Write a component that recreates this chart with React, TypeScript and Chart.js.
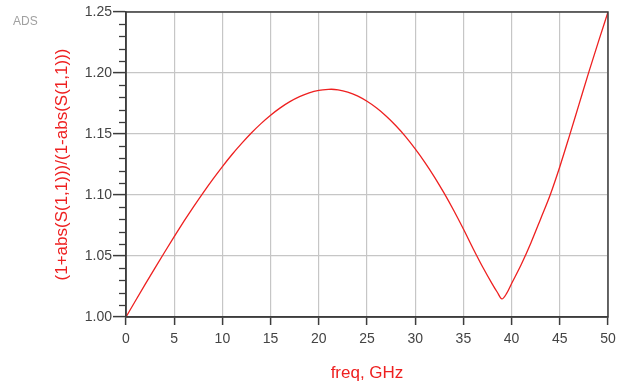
import React, { useEffect, useRef } from "react";
import { Chart, registerables } from "chart.js";

Chart.register(...registerables);

const freqGHz = [
  0, 1, 2, 3, 4, 5, 6, 7, 8, 9, 10, 11, 12, 13, 14, 15, 16, 17, 18, 19, 20,
  21, 21.3, 22, 23, 24, 25, 26, 27, 28, 29, 30, 31, 32, 33, 34, 35, 36, 37, 38,
  38.5, 39, 39.5, 40, 41, 42, 43, 44, 45, 46, 47, 48, 49, 50,
];
const vswr = [
  1.0, 1.0135, 1.0269, 1.0401, 1.0531, 1.0659, 1.0783, 1.0903, 1.1018,
  1.1128, 1.1233, 1.1332, 1.1423, 1.1508, 1.1585, 1.1654, 1.1714, 1.1765,
  1.1806, 1.1837, 1.1857, 1.1866, 1.1867, 1.1862, 1.1843, 1.1812, 1.1768,
  1.1713, 1.1646, 1.1568, 1.1479, 1.1378, 1.1268, 1.1147, 1.1015, 1.0873,
  1.0721, 1.0562, 1.041, 1.027, 1.0205, 1.0148, 1.0195, 1.0274, 1.043, 1.0607,
  1.0802, 1.1, 1.1232, 1.1485, 1.1745, 1.2005, 1.2255, 1.25,
];
const xTicks = [0, 5, 10, 15, 20, 25, 30, 35, 40, 45, 50];
const yTicks = [1.0, 1.05, 1.1, 1.15, 1.2, 1.25];

const xTitle = "freq, GHz";
const yTitle = "(1+abs(S(1,1)))/(1-abs(S(1,1)))";
const corner = "ADS";

const FONT = '"Liberation Sans", Arial, sans-serif';

export default function App() {
  const ref = useRef<HTMLCanvasElement | null>(null);

  useEffect(() => {
    if (!ref.current) return;

    const decor = {
      id: "decor",
      afterDraw(chart: any) {
        const { ctx, chartArea } = chart;
        const { left, right, top, bottom } = chartArea;
        const y = chart.scales.y;
        ctx.save();
        // frame
        ctx.strokeStyle = "#3c3c3c";
        ctx.lineWidth = 1.5;
        ctx.strokeRect(left, top, right - left, bottom - top);
        // minor y ticks
        ctx.lineWidth = 1.3;
        for (let i = 0; i < yTicks.length - 1; i++) {
          const a = yTicks[i];
          const b = yTicks[i + 1];
          for (let k = 1; k < 5; k++) {
            const v = a + ((b - a) * k) / 5;
            const py = Math.round(y.getPixelForValue(v)) + 0.5;
            ctx.beginPath();
            ctx.moveTo(left - 7, py);
            ctx.lineTo(left, py);
            ctx.stroke();
          }
        }
        // titles
        ctx.fillStyle = "#ee2020";
        ctx.font = `17px ${FONT}`;
        ctx.textAlign = "center";
        ctx.textBaseline = "middle";
        ctx.fillText(xTitle, (left + right) / 2, bottom + 56);
        ctx.save();
        ctx.translate(left - 64, (top + bottom) / 2);
        ctx.rotate(-Math.PI / 2);
        ctx.fillText(yTitle, 0, 0);
        ctx.restore();
        ctx.fillStyle = "#a0a0a0";
        ctx.font = `12px ${FONT}`;
        ctx.textAlign = "left";
        ctx.fillText(corner, 13, 22);
        ctx.restore();
      },
    };

    const chart = new Chart(ref.current, {
      type: "line",
      data: {
        datasets: [
          {
            data: freqGHz.map((f, i) => ({ x: f, y: vswr[i] })),
            borderColor: "#ee2020",
            borderWidth: 1.3,
            pointRadius: 0,
            cubicInterpolationMode: "monotone",
            fill: false,
          },
        ],
      },
      options: {
        responsive: false,
        animation: false,
        layout: { padding: { left: 0, top: 12, right: 14, bottom: 0 } },
        plugins: {
          legend: { display: false },
          tooltip: { enabled: false },
        },
        scales: {
          x: {
            type: "linear",
            min: 0,
            max: 50,
            afterBuildTicks: (s: any) => {
              s.ticks = xTicks.map((v) => ({ value: v }));
            },
            afterFit: (s: any) => {
              s.height = 68;
            },
            ticks: {
              color: "#444",
              font: { family: FONT, size: 14 },
              padding: 6,
              maxRotation: 0,
              autoSkip: false,
            },
            grid: {
              color: "#c6c6c6",
              lineWidth: 1.2,
              tickLength: 8,
              tickColor: "#3c3c3c",
              tickWidth: 1.5,
            },
            border: { display: true, color: "#3c3c3c", width: 1.5 },
          },
          y: {
            type: "linear",
            min: 1.0,
            max: 1.25,
            afterBuildTicks: (s: any) => {
              s.ticks = yTicks.map((v) => ({ value: v }));
            },
            afterFit: (s: any) => {
              s.width = 126;
            },
            ticks: {
              color: "#444",
              font: { family: FONT, size: 14 },
              padding: 1,
              autoSkip: false,
              callback: (v: any) => Number(v).toFixed(2),
            },
            grid: {
              color: "#c6c6c6",
              lineWidth: 1.2,
              tickLength: 13,
              tickColor: "#3c3c3c",
              tickWidth: 1.5,
            },
            border: { display: true, color: "#3c3c3c", width: 1.5 },
          },
        },
      },
      plugins: [decor],
    } as any);

    return () => chart.destroy();
  }, []);

  return (
    <div style={{ position: "absolute", left: 0, top: 0, width: 622, height: 385, background: "#fff" }}>
      <canvas ref={ref} width={622} height={385} style={{ display: "block" }} />
    </div>
  );
}
